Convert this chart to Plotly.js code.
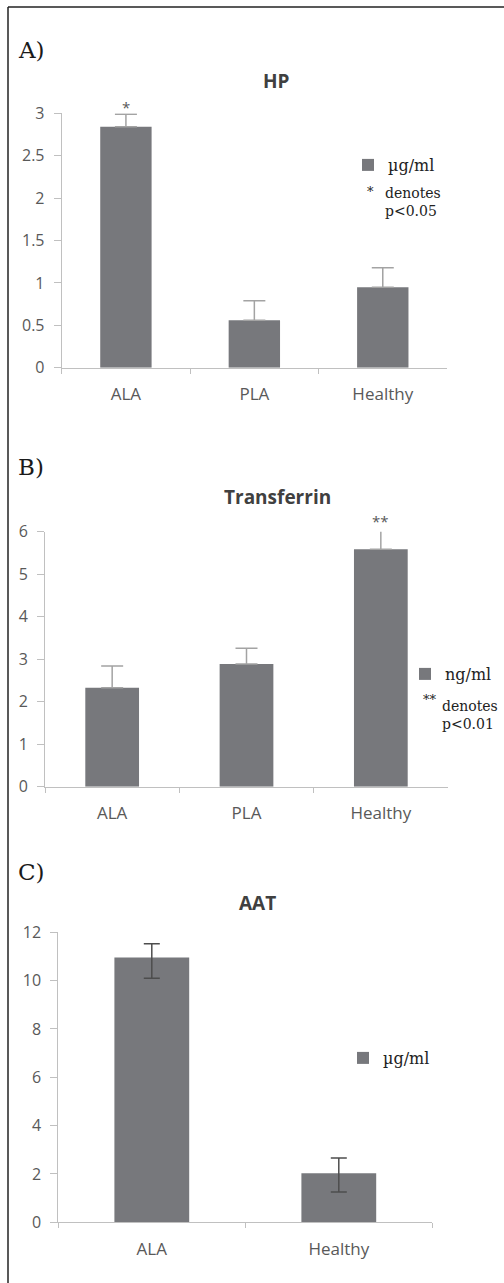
<!DOCTYPE html>
<html>
<head>
<meta charset="utf-8">
<script src="https://cdn.plot.ly/plotly-3.0.1.min.js"></script>
<style>html,body{margin:0;padding:0;background:#fff;}#chart{width:504px;height:1283px;}</style>
</head>
<body>
<div id="chart"></div>
<script>
// ---- Data ----
const hpCategories = ['ALA', 'PLA', 'Healthy'];
const hpValues = [2.84, 0.56, 0.95];
const hpErrors = [0.15, 0.23, 0.23];

const trfCategories = ['ALA', 'PLA', 'Healthy'];
const trfValues = [2.33, 2.89, 5.59];
const trfErrors = [0.51, 0.37, 0.50];

const aatCategories = ['ALA', 'Healthy'];
const aatValues = [10.96, 2.03];
const aatErrorsPlus = [0.57, 0.63];
const aatErrorsMinus = [0.86, 0.78];

const hpTickVals = [0, 0.5, 1, 1.5, 2, 2.5, 3];
const trfTickVals = [0, 1, 2, 3, 4, 5, 6];
const aatTickVals = [0, 2, 4, 6, 8, 10, 12];

// ---- Styles ----
const W = 504, H = 1283;
const px = v => v / W;
const py = v => 1 - v / H;
const barColor = '#77787c';
const axisColor = '#c0c0c0';
const tickFont = {family: 'Open Sans, sans-serif', size: 16, color: '#595959'};
const catFont = {family: 'Open Sans, sans-serif', size: 17, color: '#595959'};
const titleFont = {family: 'Open Sans, sans-serif', size: 19, color: '#404040', weight: 'bold'};
const serif = 'DejaVu Serif, Liberation Serif, serif';

const domA = [py(367.7), py(113.3)], domB = [py(786.7), py(531.7)], domC = [py(1222.3), py(932.3)];
const rangeA = [0, 3], rangeB = [0, 6], rangeC = [0, 12];
// map a data value onto paper coordinates of a given y axis
const toPaper = (v, dom, rng) => dom[0] + (v - rng[0]) / (rng[1] - rng[0]) * (dom[1] - dom[0]);

const traces = [
  {type: 'bar', x: hpCategories, y: hpValues, xaxis: 'x', yaxis: 'y', name: 'µg/ml',
   marker: {color: barColor}, legend: 'legend', cliponaxis: false,
   error_y: {type: 'data', array: hpErrors, arrayminus: hpErrors.map(() => 0), symmetric: false,
             color: '#a3a3a3', thickness: 1.5, width: 11}},
  {type: 'bar', x: trfCategories, y: trfValues, xaxis: 'x2', yaxis: 'y2', name: 'ng/ml',
   marker: {color: barColor}, legend: 'legend2', cliponaxis: false,
   error_y: {type: 'data', array: trfErrors, arrayminus: trfErrors.map(() => 0), symmetric: false,
             color: '#a3a3a3', thickness: 1.5, width: 11}},
  {type: 'bar', x: aatCategories, y: aatValues, xaxis: 'x3', yaxis: 'y3', name: 'µg/ml',
   marker: {color: barColor}, legend: 'legend3', cliponaxis: false,
   error_y: {type: 'data', array: aatErrorsPlus, arrayminus: aatErrorsMinus, symmetric: false,
             color: '#4d4d4d', thickness: 1.5, width: 8}}
];

function xAxis(domain, anchor) {
  return {domain: domain, anchor: anchor, type: 'category', showline: true, linecolor: axisColor,
    linewidth: 1, ticks: 'outside', tickson: 'boundaries', ticklen: 5, tickcolor: axisColor,
    tickfont: catFont, showgrid: false, zeroline: false, fixedrange: true, ticklabelstandoff: 11};
}
function yAxis(domain, anchor, range, tickvals) {
  return {domain: domain, anchor: anchor, range: range, tickvals: tickvals, showline: true,
    linecolor: axisColor, linewidth: 1, ticks: 'outside', ticklen: 7, tickcolor: axisColor,
    tickfont: tickFont, showgrid: false, zeroline: false, fixedrange: true, ticklabelstandoff: 6};
}

const legendBase = {bgcolor: 'rgba(0,0,0,0)', borderwidth: 0, xanchor: 'left', yanchor: 'middle',
  font: {family: serif, size: 16, color: '#222'}, itemwidth: 30};

const annotations = [
  {text: 'A)', x: px(16), y: py(50)},
  {text: 'B)', x: px(16), y: py(466.7)},
  {text: 'C)', x: px(16), y: py(871.7)}
].map(a => Object.assign({xref: 'paper', yref: 'paper', xanchor: 'left', yanchor: 'middle',
  showarrow: false, font: {family: serif, size: 23, color: '#1a1a1a'}}, a));

[
  {text: 'HP', x: px(276), y: py(81)},
  {text: 'Transferrin', x: px(277), y: py(497.3)},
  {text: 'AAT', x: px(257), y: py(902.7)}
].forEach(a => annotations.push(Object.assign({xref: 'paper', yref: 'paper',
  xanchor: 'center', yanchor: 'middle', showarrow: false, font: titleFont}, a)));

// significance notes
annotations.push(
  {xref: 'paper', yref: 'paper', x: px(370), y: py(191), text: '*', showarrow: false,
   xanchor: 'center', yanchor: 'middle', font: {family: serif, size: 13, color: '#222'}},
  {xref: 'paper', yref: 'paper', x: px(383), y: py(202.3), text: 'denotes<br>p<0.05', showarrow: false,
   xanchor: 'left', yanchor: 'middle', align: 'left', font: {family: serif, size: 14, color: '#222'}},
  {xref: 'paper', yref: 'paper', x: px(430), y: py(700), text: '**', showarrow: false,
   xanchor: 'center', yanchor: 'middle', font: {family: serif, size: 13, color: '#222'}},
  {xref: 'paper', yref: 'paper', x: px(440), y: py(714.8), text: 'denotes<br>p<0.01', showarrow: false,
   xanchor: 'left', yanchor: 'middle', align: 'left', font: {family: serif, size: 14, color: '#222'}}
);
// asterisks above bars (placed at the top of the error bar)
annotations.push(
  {xref: 'x', yref: 'paper', x: hpCategories[0], y: toPaper(hpValues[0] + hpErrors[0], domA, rangeA), text: '*',
   showarrow: false, yanchor: 'bottom', yshift: -5, font: {family: 'Open Sans, sans-serif', size: 15, color: '#595959'}},
  {xref: 'x2', yref: 'paper', x: trfCategories[2], y: toPaper(trfValues[2] + trfErrors[2], domB, rangeB), text: '**',
   showarrow: false, yanchor: 'bottom', yshift: -5, font: {family: 'Open Sans, sans-serif', size: 15, color: '#595959'}}
);

const layout = {
  width: W, height: H, margin: {l: 0, r: 0, t: 0, b: 0}, autosize: false,
  paper_bgcolor: '#fff', plot_bgcolor: 'rgba(0,0,0,0)', bargap: 0.6, showlegend: true,
  xaxis: xAxis([px(61.7), px(447)], 'y'),
  yaxis: yAxis(domA, 'x', rangeA, hpTickVals),
  xaxis2: xAxis([px(45), px(448)], 'y2'),
  yaxis2: yAxis(domB, 'x2', rangeB, trfTickVals),
  xaxis3: xAxis([px(58.3), px(432.3)], 'y3'),
  yaxis3: yAxis(domC, 'x3', rangeC, aatTickVals),
  legend: Object.assign({}, legendBase, {x: px(348), y: py(165)}),
  legend2: Object.assign({}, legendBase, {x: px(405), y: py(674)}),
  legend3: Object.assign({}, legendBase, {x: px(343), y: py(1058)}),
  annotations: annotations,
  shapes: [
    {type: 'line', xref: 'paper', yref: 'paper', x0: px(8), x1: 1, y0: py(7), y1: py(7), line: {color: '#222', width: 1.5}},
    {type: 'line', xref: 'paper', yref: 'paper', x0: px(8), x1: px(8), y0: py(7), y1: 0, line: {color: '#222', width: 1.5}}
  ]
};

Plotly.newPlot('chart', traces, layout, {displayModeBar: false, staticPlot: true});
</script>
</body>
</html>
